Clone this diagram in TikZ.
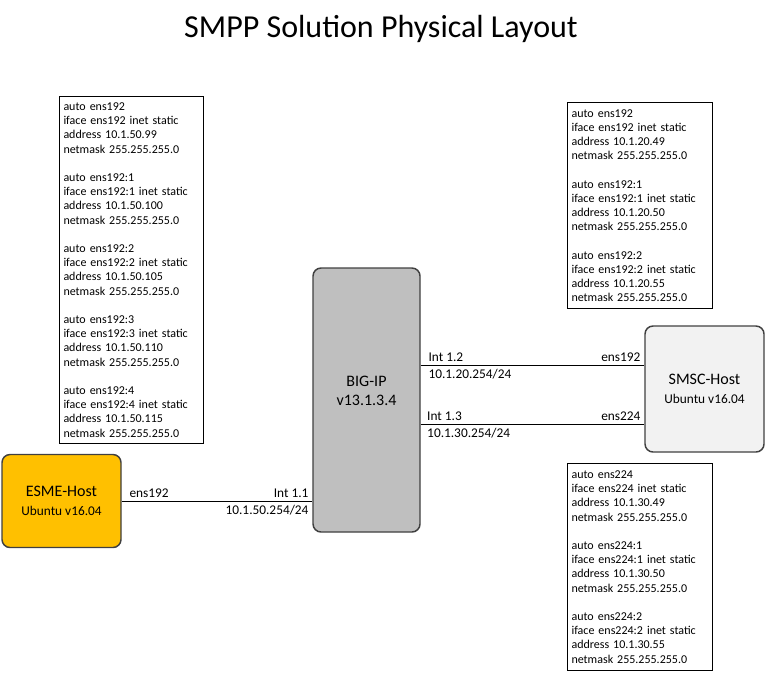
\documentclass[tikz,border=0pt]{standalone}
\usepackage{fontspec}
\setmainfont{Carlito}
\usetikzlibrary{positioning, calc}
\definecolor{cesme}{HTML}{FFC000}
\definecolor{cbigip}{HTML}{BFBFBF}
\definecolor{csmsc}{HTML}{F2F2F2}
\definecolor{cedge}{HTML}{404040}
\newcommand{\subsize}{\fontsize{10pt}{12pt}\selectfont}
\tikzset{
  every picture/.style={x=0.75pt, y=-0.75pt, line width=0.75pt},
  title/.style={font=\fontsize{24pt}{28pt}\selectfont},
  cfg/.style={draw=black, anchor=north west, align=left, inner xsep=3pt, inner ysep=0pt,
    font=\fontsize{9pt}{10.65pt}\selectfont},
  host/.style={draw=cedge, fill=#1, rounded corners=6pt, line width=1.1pt, align=center,
    font=\fontsize{12pt}{14.25pt}\selectfont},
  host/.default=csmsc,
  link/.style={draw=black, line width=0.75pt},
  lbl/.style={font=\subsize, inner sep=2.5pt},
}
\begin{document}
\begin{tikzpicture}
  \useasboundingbox (0,0) rectangle (766,675);
  \node[title] (title) at (381,29) {SMPP Solution Physical Layout};

  % hosts
  \node[host=cesme, minimum width=89.25pt, minimum height=69.75pt] (esme) at (61.5,501)
    {ESME-Host\\ {\subsize Ubuntu v16.04}};
  \node[host=cbigip, minimum width=80.25pt, minimum height=198pt] (bigip) at (366.5,400) {};
  \node[host=cbigip, draw=none, fill=none] (bigiptxt) at (366.5,390.5) {BIG-IP\\v13.1.3.4};
  \node[host=csmsc, minimum width=89.25pt, minimum height=94.5pt] (smsc) at (704.5,389)
    {SMSC-Host\\ {\subsize Ubuntu v16.04}};

  % interface config
  \node[cfg, text width=102pt, minimum height=260.25pt] (cfgesme) at (59,96) {
    auto ens192\\ iface ens192 inet static\\ address 10.1.50.99\\ netmask 255.255.255.0\\[10.65pt]
    auto ens192:1\\ iface ens192:1 inet static\\ address 10.1.50.100\\ netmask 255.255.255.0\\[10.65pt]
    auto ens192:2\\ iface ens192:2 inet static\\ address 10.1.50.105\\ netmask 255.255.255.0\\[10.65pt]
    auto ens192:3\\ iface ens192:3 inet static\\ address 10.1.50.110\\ netmask 255.255.255.0\\[10.65pt]
    auto ens192:4\\ iface ens192:4 inet static\\ address 10.1.50.115\\ netmask 255.255.255.0};
  \node[cfg, text width=102.75pt, minimum height=154.5pt] (cfgsmsca) at (567,102) {
    auto ens192\\ iface ens192 inet static\\ address 10.1.20.49\\ netmask 255.255.255.0\\[10.65pt]
    auto ens192:1\\ iface ens192:1 inet static\\ address 10.1.20.50\\ netmask 255.255.255.0\\[10.65pt]
    auto ens192:2\\ iface ens192:2 inet static\\ address 10.1.20.55\\ netmask 255.255.255.0};
  \node[cfg, text width=102.75pt, minimum height=155.25pt] (cfgsmscb) at (567,463) {
    auto ens224\\ iface ens224 inet static\\ address 10.1.30.49\\ netmask 255.255.255.0\\[10.65pt]
    auto ens224:1\\ iface ens224:1 inet static\\ address 10.1.30.50\\ netmask 255.255.255.0\\[10.65pt]
    auto ens224:2\\ iface ens224:2 inet static\\ address 10.1.30.55\\ netmask 255.255.255.0};

  % links
  \draw[link] (esme.east) -- node[lbl, pos=0, above right, xshift=3pt] {ens192}
    node[lbl, pos=1, above left] {Int 1.1} node[lbl, pos=1, below left] {10.1.50.254/24}
    (esme.east -| bigip.west);
  \coordinate (p12) at ([yshift=18pt]smsc.west);
  \coordinate (p13) at ([yshift=-26.25pt]smsc.west);
  \draw[link] (p12 -| bigip.east) -- node[lbl, pos=0, above right, xshift=3pt] {Int 1.2}
    node[lbl, pos=0, below right, xshift=3pt] {10.1.20.254/24}
    node[lbl, pos=1, above left] {ens192} (p12);
  \draw[link] (p13 -| bigip.east) -- node[lbl, pos=0, above right, xshift=2pt] {Int 1.3}
    node[lbl, pos=0, below right, xshift=2pt] {10.1.30.254/24}
    node[lbl, pos=1, above left] {ens224} (p13);
\end{tikzpicture}
\end{document}
